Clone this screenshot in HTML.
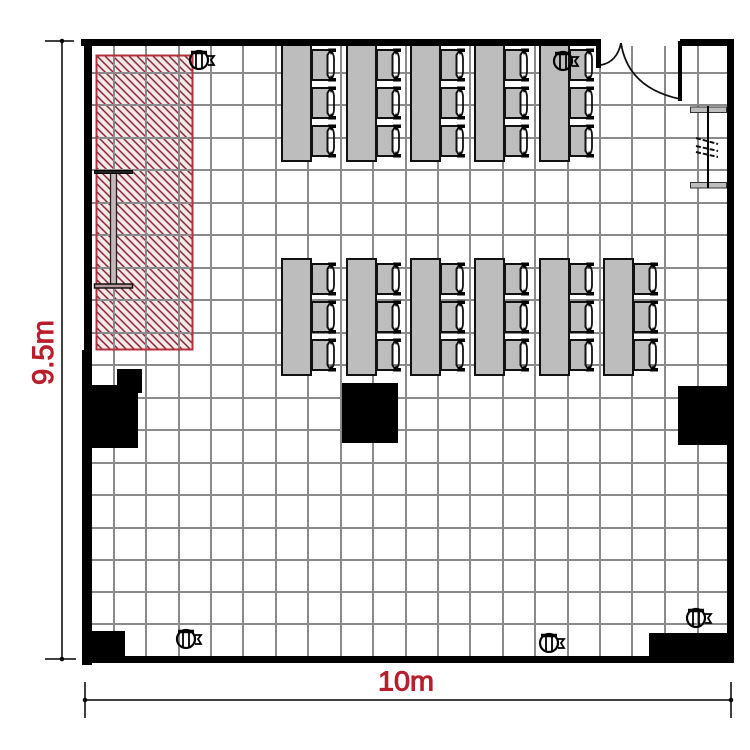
<!DOCTYPE html>
<html><head><meta charset="utf-8"><style>html,body{margin:0;padding:0;background:#fff}svg{display:block}</style></head><body>
<svg xmlns="http://www.w3.org/2000/svg" width="750" height="750" viewBox="0 0 750 750">
<defs>
<pattern id="h" width="8" height="8" patternUnits="userSpaceOnUse" patternTransform="translate(96 55)"><rect width="8" height="8" fill="#fde6e6"/><path d="M-2 -2L10 10M-2 6L2 10M6 -2L10 2" stroke="#7e2a35" stroke-width="1.500"/></pattern>
<g id="ch"><path d="M19 0H1V30H19L16 26V4Z" fill="#bdbdbd"/><path d="M19 0H1V30H19" fill="none" stroke="#111" stroke-width="2"/><path d="M19 1L16.500 5V25L19 29" fill="none" stroke="#111" stroke-width="2"/><path d="M21 2Q23 5 23 9V21Q23 25 21 28" fill="none" stroke="#111" stroke-width="1.800"/><path d="M17 -1.500H25V2H22L20 5Z"/><path d="M17 31.500H25V28H22L20 25Z"/></g>
<g id="set"><rect x="1" y="1" width="29" height="116" fill="#bdbdbd" stroke="#111" stroke-width="2"/><use href="#ch" x="30" y="6"/><use href="#ch" x="30" y="44"/><use href="#ch" x="30" y="82"/></g>
<g id="sp" fill="none" stroke="#000"><circle cx="0" cy="0" r="9" stroke-width="2.200"/><path d="M-8 -7.500H8" stroke-width="3.500"/><path d="M-3 -7V9M3 -7V9" stroke-width="1.800"/><path d="M9 -4L15 -4L12 0L15 5L9 5" stroke-width="1.800"/></g>
</defs>
<rect x="96.500" y="55.500" width="96" height="294" fill="url(#h)"/>
<g stroke="#8a8a8a" stroke-width="2" fill="none">
<path d="M114 46V657M146 46V657M179 46V657M211 46V657M243 46V657M276 46V657M308 46V657M341 46V657M373 46V657M406 46V657M438 46V657M470 46V657M503 46V657M535 46V657M568 46V657M600 46V657M632 46V657M665 46V657M698 46V657"/>
<path d="M92 73H727M92 105H727M92 138H727M92 170H727M92 203H727M92 235H727M92 268H727M92 300H727M92 333H727M92 365H727M92 398H727M92 430H727M92 463H727M92 495H727M92 528H727M92 560H727M92 592H727M92 624H727"/>
</g>
<rect x="96.500" y="55.500" width="96" height="294" fill="none" stroke="#b5303c" stroke-width="2"/>
<use href="#set" x="281" y="44"/><use href="#set" x="346" y="44"/><use href="#set" x="410" y="44"/><use href="#set" x="474" y="44"/><use href="#set" x="539" y="44"/>
<use href="#set" x="281" y="258"/><use href="#set" x="346" y="258"/><use href="#set" x="410" y="258"/><use href="#set" x="474" y="258"/><use href="#set" x="539" y="258"/><use href="#set" x="603" y="258"/>
<g fill="#000">
<rect x="81" y="39" width="516" height="7"/><rect x="84" y="39" width="8" height="626"/><rect x="82" y="350" width="10" height="315"/><rect x="82" y="656" width="652" height="7"/>
<rect x="727" y="39" width="7" height="624"/><rect x="680" y="39" width="54" height="7"/>
<rect x="596" y="39" width="5" height="29"/><rect x="678" y="41" width="4" height="60"/>
<rect x="342" y="383" width="56" height="60"/><rect x="678" y="386" width="56" height="59"/>
<path d="M82 385H117V369H142V393H138V448H82Z"/>
<rect x="82" y="631" width="43" height="32"/><rect x="649" y="633" width="85" height="30"/>
</g>
<path d="M601 65Q617 62 621 43Q628 88 680 99" fill="none" stroke="#111" stroke-width="1.800"/>
<rect x="110.500" y="173" width="6" height="112" fill="#c4b8b8" stroke="#222" stroke-width="1.300"/>
<rect x="94.500" y="170.500" width="38" height="3" fill="#222" stroke="#000"/><rect x="94.500" y="284" width="38" height="4" fill="#b89a9a" stroke="#111" stroke-width="1.500"/>
<rect x="690.500" y="107" width="36" height="5.500" fill="#bdbdbd" stroke="#333"/><rect x="690.500" y="182.500" width="36" height="5.500" fill="#bdbdbd" stroke="#333"/>
<path d="M708 106V188" stroke="#000" stroke-width="2"/>
<path d="M696 138L718 144M696 146L718 151M696 152L718 157" fill="none" stroke="#111" stroke-width="2" stroke-dasharray="5 2"/>
<use href="#sp" x="199" y="60"/><use href="#sp" x="563" y="61"/><use href="#sp" x="186" y="639"/><use href="#sp" x="549" y="643"/><use href="#sp" x="696" y="618"/>
<g stroke="#000" stroke-width="1.500" fill="none">
<path d="M62 41V659M45 41H74M45 659H76"/><circle cx="62" cy="41" r="1.500"/><circle cx="62" cy="659" r="1.500"/>
<path d="M85 700H731M85 682V718M731 682V718"/><circle cx="85" cy="700" r="1.500"/><circle cx="731" cy="700" r="1.500"/>
</g>
<text x="406" y="690.500" text-anchor="middle" font-family="Liberation Sans, sans-serif" font-size="28" fill="#b81f2d" stroke="#b81f2d" stroke-width="1" textLength="56" lengthAdjust="spacingAndGlyphs">10m</text>
<text transform="translate(53 352.500) rotate(-90)" text-anchor="middle" font-family="Liberation Sans, sans-serif" font-size="30" fill="#b81f2d" stroke="#b81f2d" stroke-width="1" textLength="65" lengthAdjust="spacingAndGlyphs">9.5m</text>
</svg>
</body></html>
